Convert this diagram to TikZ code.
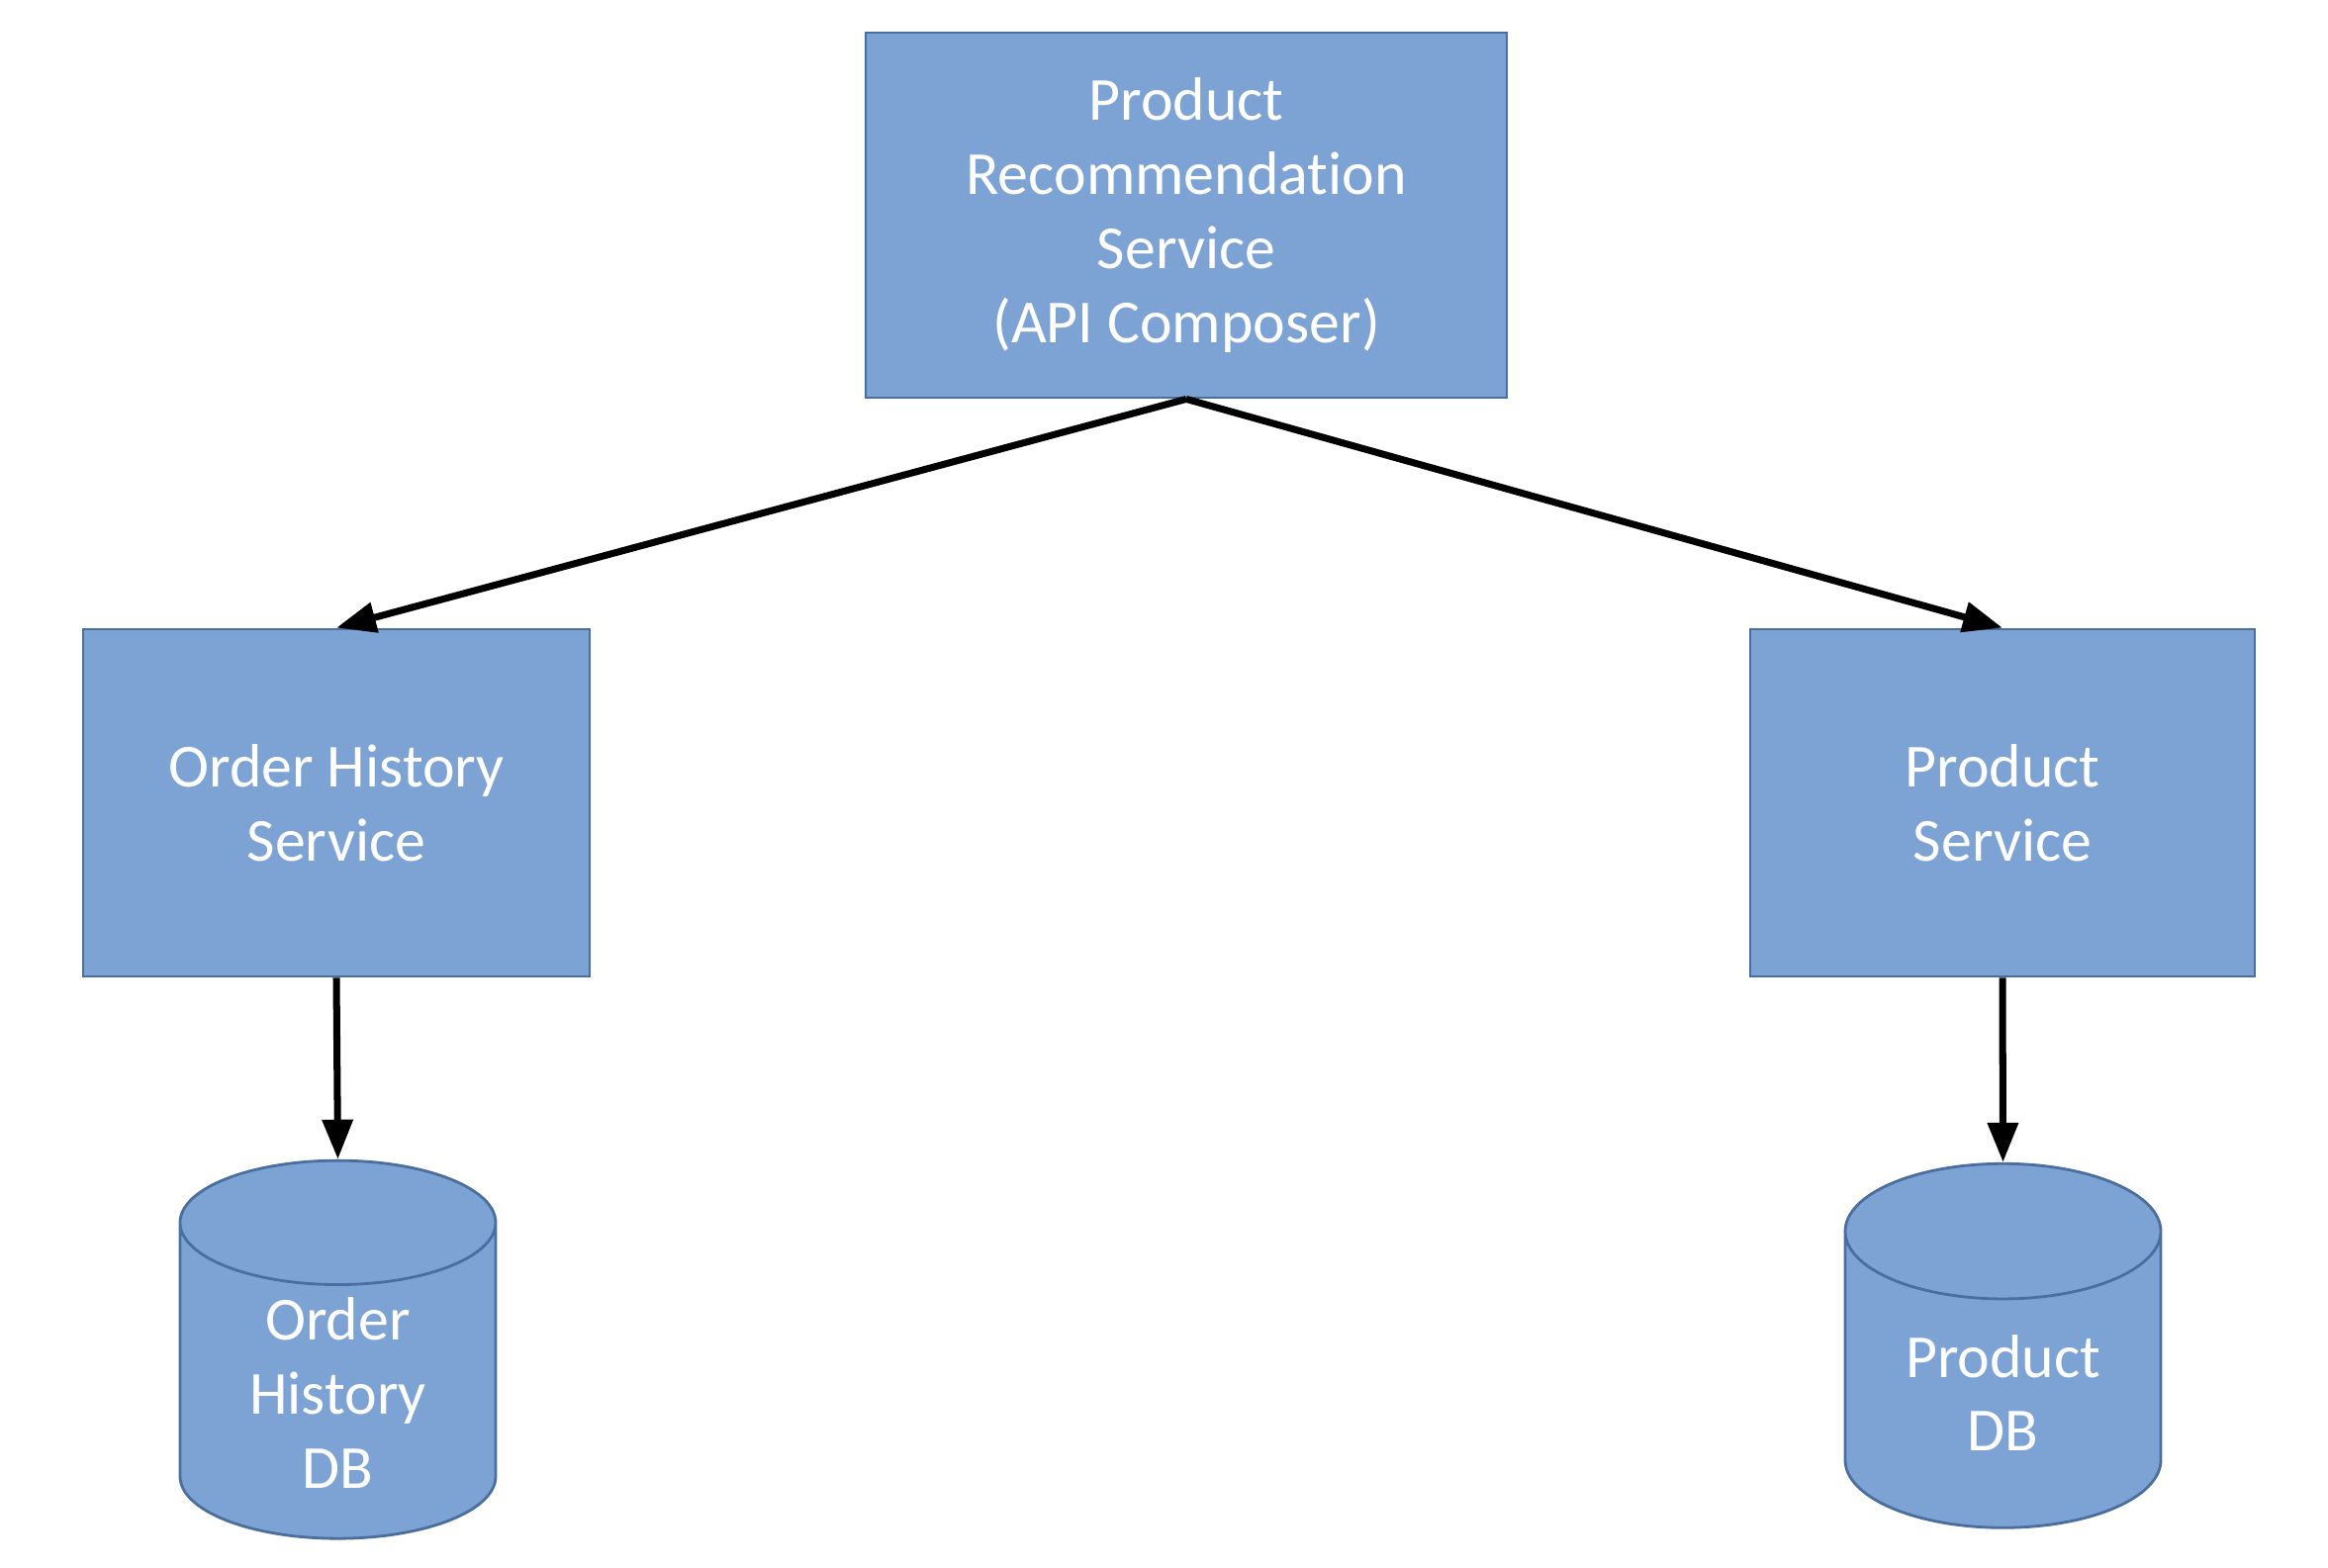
\documentclass[tikz,border=0pt]{standalone}
\usepackage{fontspec}
\setmainfont{Carlito}[Ligatures=NoCommon]
\usetikzlibrary{arrows.meta, shapes.geometric}
\definecolor{cfill}{HTML}{7DA3D5}
\definecolor{cline}{HTML}{4A6E9E}
\tikzset{
  every picture/.style={font=\fontsize{17.6}{21.3}\selectfont},
  box/.style={draw=cline, fill=cfill, text=white, align=center, line width=0.8pt},
  db/.style={cylinder, shape border rotate=90, aspect=0.62, draw=cline, fill=cfill, text=white, align=center, line width=0.8pt, minimum width=3.19cm, minimum height=3.68cm},
  arrow/.style={-{Triangle[length=0.4cm, width=0.3cm]}, line width=2pt, black},
}
\begin{document}
\begin{tikzpicture}[x=1cm, y=1cm]
  \useasboundingbox (0,0) rectangle (23.53,15.84);
  \node[box, minimum width=6.48cm, minimum height=3.69cm] (prs) at (11.99,13.665) {Product\\Recommendation\\Service\\(API Composer)};
  \node[box, minimum width=5.12cm, minimum height=3.51cm] (ohs) at (3.40,7.725) {Order History\\Service};
  \node[box, minimum width=5.10cm, minimum height=3.51cm] (ps) at (20.24,7.725) {Product\\Service};
  % databases
  \node[db] (ohdb) at (3.415,1.76) {Order\\History\\DB};
  \node[db] (pdb) at (20.245,1.76) {Product\\DB};
  \draw[arrow] (prs.south) -- (ohs.north);
  \draw[arrow] (prs.south) -- (ps.north);
  \draw[arrow] (ohs.south) -- (ohdb.north);
  \draw[arrow] (ps.south) -- (pdb.north);
\end{tikzpicture}
\end{document}
